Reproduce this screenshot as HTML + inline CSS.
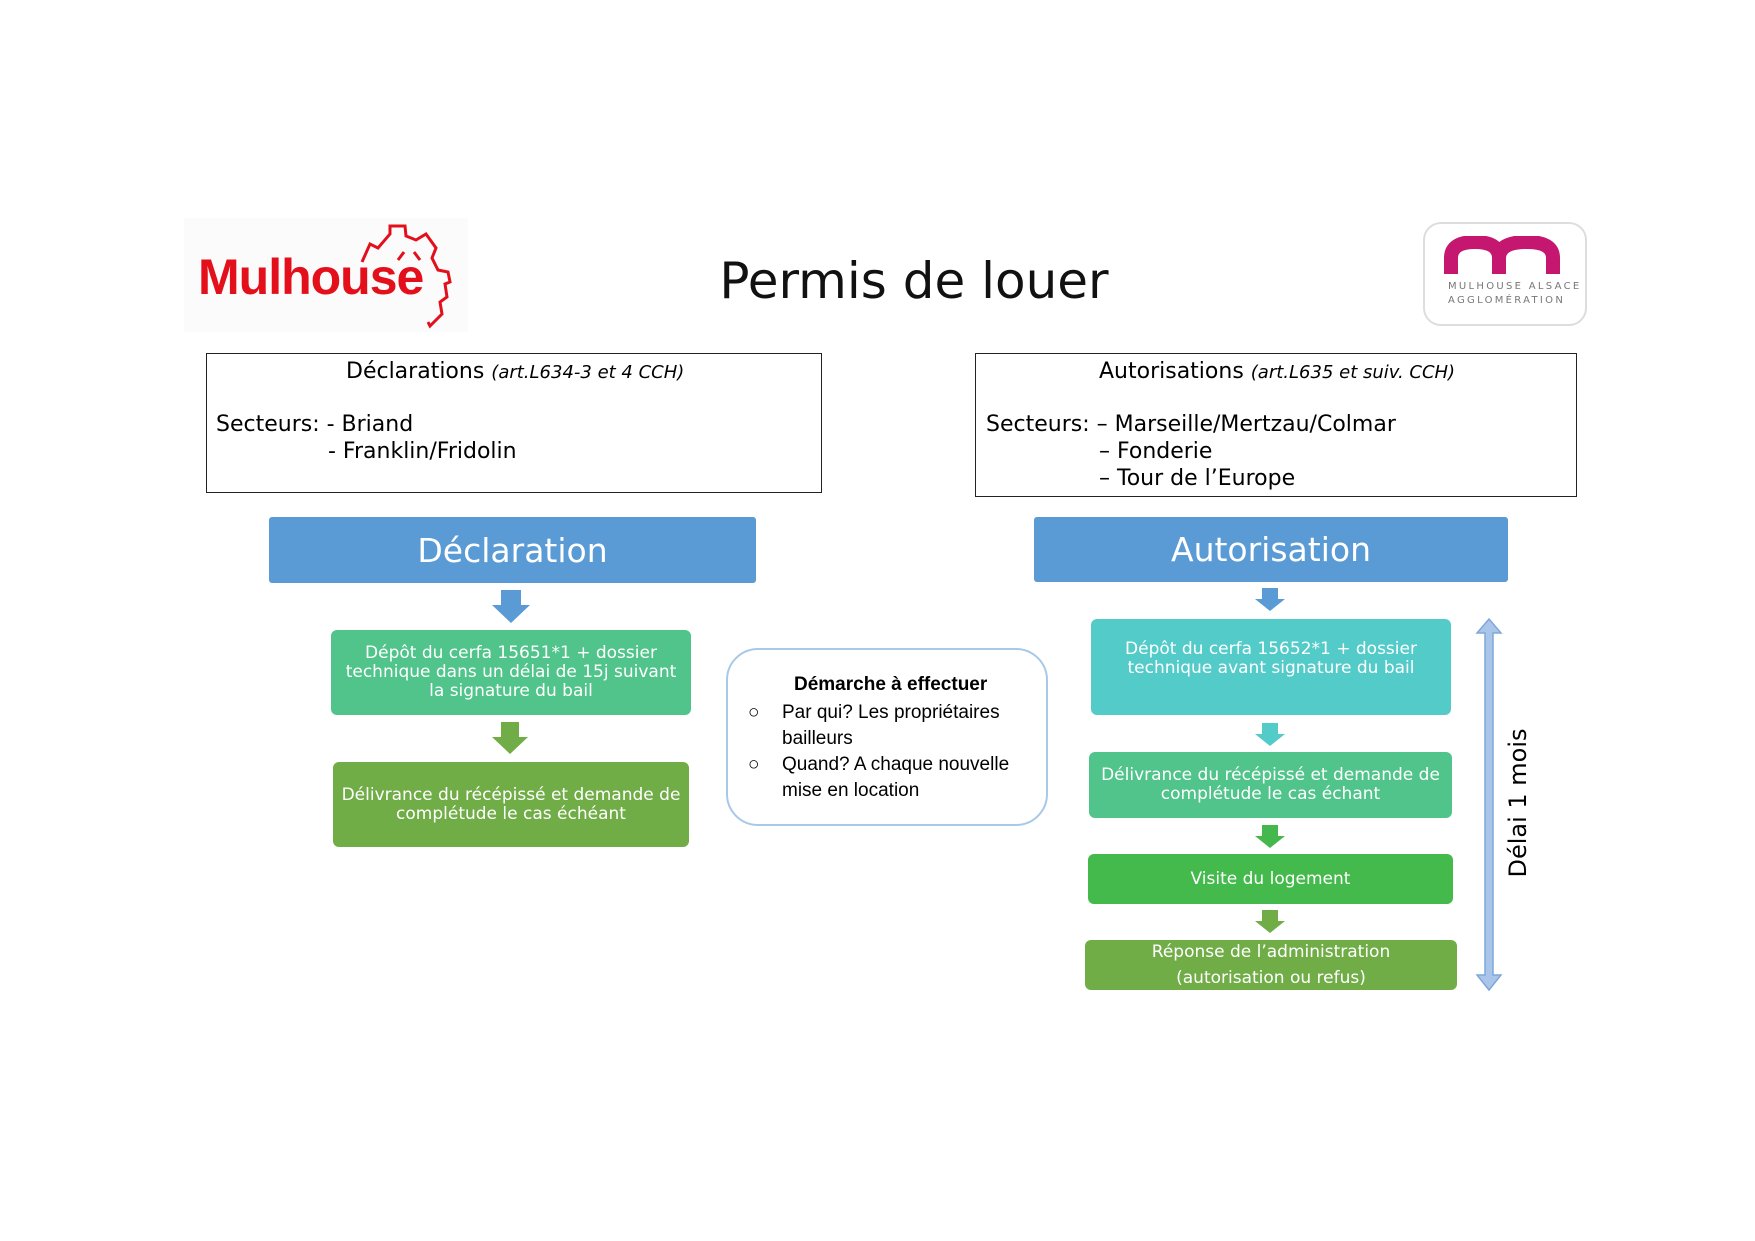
<!DOCTYPE html>
<html><head><meta charset="utf-8"><style>
body{margin:0;width:1755px;height:1241px;background:#fff;position:relative;overflow:hidden;font-family:"DejaVu Sans","Liberation Sans",sans-serif;}
.a{position:absolute;box-sizing:border-box;}
.box{border:1.5px solid #222;}
.hdr{background:#5B9BD5;color:#fff;font-size:33px;display:flex;align-items:center;justify-content:center;border-radius:3px;}
.st{color:#fff;font-size:17px;display:flex;align-items:center;justify-content:center;text-align:center;line-height:19px;border-radius:6px;white-space:nowrap;}
.t{position:absolute;white-space:nowrap;}
.w{position:absolute;left:0;top:0;width:1755px;height:1241px;}
</style></head><body>
<!-- Mulhouse logo -->
<div class="a" style="left:184px;top:218px;width:284px;height:114px;background:#fbfbfb;"></div>
<div class="t" style="left:198px;top:248px;font-family:'Liberation Sans',sans-serif;font-weight:bold;font-size:50px;color:#e3101c;letter-spacing:-1px;">Mulhouse</div>
<svg class="a" style="left:350px;top:222px" width="115" height="110"><path d="M12,40 L20,22 L28,26 L40,12 L40,4 L55,4 L56,14 L66,18 L76,12 L86,26 L82,36 L88,48 L98,50 L100,60 L95,62 L97,75 L90,80 L92,92 L80,104 L78,100" fill="none" stroke="#e3101c" stroke-width="3"/><path d="M48,38 l6,-8 M64,30 l6,8" stroke="#e3101c" stroke-width="3"/></svg>
<div class="t" style="left:0;width:1828px;text-align:center;top:252px;font-size:50px;color:#111;">Permis de louer</div>
<!-- M2A logo -->
<div class="a" style="left:1423px;top:222px;width:164px;height:104px;border:2px solid #ddd;border-radius:18px;background:#fff;"></div>
<svg class="a" style="left:1443px;top:236px" width="130" height="40"><path d="M8,38 V22 Q8,6 32,6 Q56,6 56,22 V38 M56,22 Q56,6 84,6 Q110,6 110,22 V38" fill="none" stroke="#c5176f" stroke-width="14"/></svg>
<div class="t" style="left:1448px;top:280px;font-size:10px;letter-spacing:2.3px;color:#777;line-height:14px;">MULHOUSE ALSACE<br>AGGLOMÉRATION</div>
<!-- top boxes -->
<div class="a box" style="left:206px;top:353px;width:616px;height:140px;"></div>
<div class="t" style="left:346px;top:359px;font-size:22px;">Déclarations <i style="font-size:18px">(art.L634-3 et 4 CCH)</i></div>
<div class="t" style="left:216px;top:411px;font-size:22px;line-height:27px;">Secteurs: - Briand<br><span style="padding-left:112px">- Franklin/Fridolin</span></div>
<div class="a box" style="left:975px;top:353px;width:602px;height:144px;"></div>
<div class="t" style="left:1099px;top:359px;font-size:22px;">Autorisations <i style="font-size:18px">(art.L635 et suiv. CCH)</i></div>
<div class="t" style="left:986px;top:411px;font-size:22px;line-height:27px;">Secteurs: – Marseille/Mertzau/Colmar<br><span style="padding-left:113px">– Fonderie</span><br><span style="padding-left:113px">– Tour de l’Europe</span></div>
<div class="w" style="top:-3px;">
<!-- headers -->
<div class="a hdr" style="left:269px;top:520px;width:487px;height:66px;">Déclaration</div>
<!-- left steps -->
<div class="a st" style="left:331px;top:633px;width:360px;height:85px;background:#50C48A;">Dépôt du cerfa 15651*1 + dossier<br>technique dans un délai de 15j suivant<br>la signature du bail</div>
<div class="a st" style="left:333px;top:765px;width:356px;height:85px;background:#70AD47;">Délivrance du récépissé et demande de<br>complétude le cas échéant</div>
<svg class="a" style="left:0;top:0" width="900" height="900">
<polygon points="501,593 521,593 521,608 530,608 511,626 492,608 501,608" fill="#5B9BD5"/>
<polygon points="501,725 519,725 519,740 528,740 510,757 492,740 501,740" fill="#70AD47"/>
</svg>
</div>
<!-- center -->
<div class="a" style="left:726px;top:648px;width:322px;height:178px;border:2px solid #A9C8E8;border-radius:32px;"></div>
<div class="t" style="left:794px;top:674px;font-family:'Liberation Sans',sans-serif;font-weight:bold;font-size:19px;">Démarche à effectuer</div>
<div class="t" style="left:748px;top:700px;font-family:'Liberation Sans',sans-serif;font-size:19px;line-height:26px;">○<br><br>○</div>
<div class="t" style="left:782px;top:700px;font-family:'Liberation Sans',sans-serif;font-size:19px;line-height:26px;">Par qui? Les propriétaires<br>bailleurs<br>Quand? A chaque nouvelle<br>mise en location</div>
<div class="w" style="top:-3px;left:-6px;">
<div class="a hdr" style="left:1040px;top:520px;width:474px;height:65px;">Autorisation</div>
<svg class="a" style="left:0;top:0" width="1755" height="1241">
<polygon points="1268,591 1284,591 1284,602 1291,602 1276,614 1261,602 1268,602" fill="#5B9BD5"/>
<polygon points="1268,726 1284,726 1284,737 1291,737 1276,749 1261,737 1268,737" fill="#53CBC9"/>
<polygon points="1268,828 1284,828 1284,839 1291,839 1276,851 1261,839 1268,839" fill="#45B84D"/>
<polygon points="1268,913 1284,913 1284,924 1291,924 1276,936 1261,924 1268,924" fill="#70AD47"/>
<polygon points="1495,622 1507,636 1499,636 1499,978 1507,978 1495,993 1483,978 1491,978 1491,636 1483,636" fill="#A9C6EA" stroke="#7FA7DA" stroke-width="1.5"/>
</svg>
<!-- right steps -->
<div class="a st" style="left:1097px;top:622px;width:360px;height:96px;background:#53CBC9;padding-bottom:16px;">Dépôt du cerfa 15652*1 + dossier<br>technique avant signature du bail</div>
<div class="a st" style="left:1095px;top:755px;width:363px;height:66px;background:#50C48A;">Délivrance du récépissé et demande de<br>complétude le cas échant</div>
<div class="a st" style="left:1094px;top:857px;width:365px;height:50px;background:#44B94C;">Visite du logement</div>
<div class="a st" style="left:1091px;top:943px;width:372px;height:50px;background:#70AD47;line-height:26px;">Réponse de l’administration<br>(autorisation ou refus)</div>
<div class="t" style="left:1524px;top:806px;transform:translate(-50%,-50%) rotate(-90deg);font-size:24px;">Délai 1 mois</div>
</div>
</body></html>
